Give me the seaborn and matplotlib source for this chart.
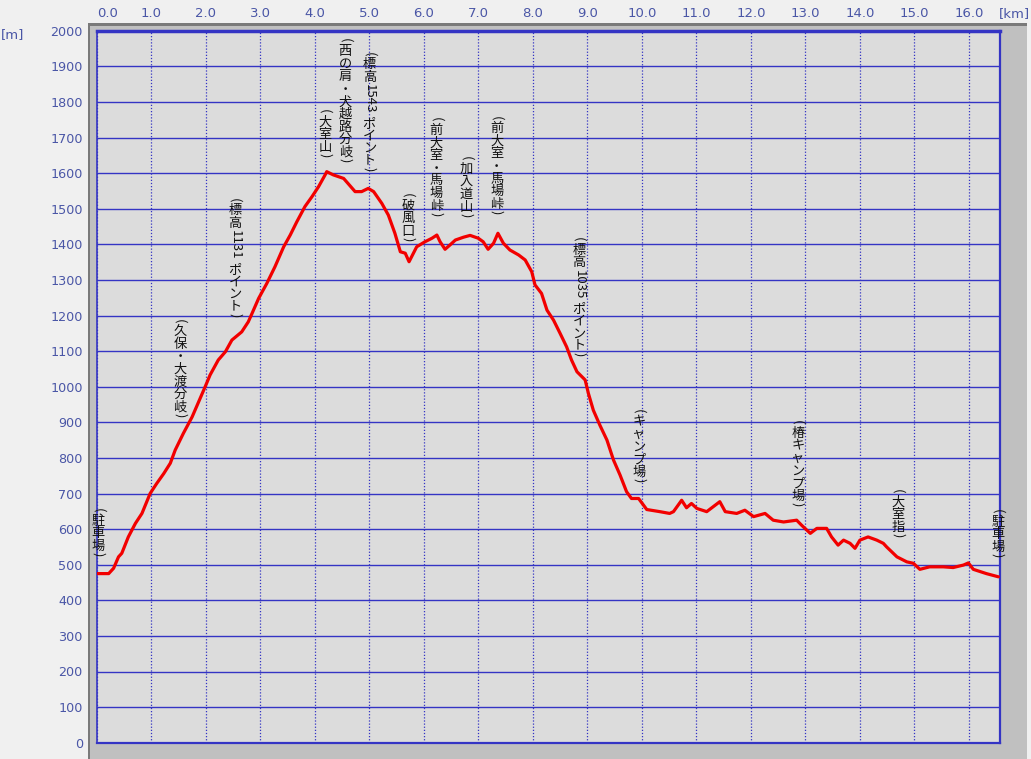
import matplotlib
matplotlib.use("Agg")
import matplotlib.pyplot as plt
from matplotlib.patches import Rectangle
from matplotlib.font_manager import FontProperties
import seaborn as sns
import pandas as pd

# ---------------- data ----------------
dist_km = [0.00, 0.22, 0.31, 0.40, 0.46, 0.58, 0.71, 0.83, 0.98, 1.10, 1.23, 1.35, 1.44, 1.59,
           1.75, 1.99, 2.08, 2.23, 2.36, 2.48, 2.66, 2.78, 2.85, 2.97, 3.12, 3.27, 3.43, 3.55,
           3.67, 3.82, 3.95, 4.07, 4.19, 4.22, 4.34, 4.53, 4.74, 4.86, 4.98, 5.08, 5.23, 5.35,
           5.47, 5.57, 5.66, 5.73, 5.81, 5.87, 6.02, 6.15, 6.24, 6.30, 6.39, 6.48, 6.58, 6.73,
           6.85, 7.00, 7.09, 7.18, 7.28, 7.36, 7.46, 7.58, 7.74, 7.86, 7.98, 8.04, 8.16, 8.26,
           8.38, 8.50, 8.62, 8.71, 8.81, 8.96, 9.02, 9.11, 9.23, 9.36, 9.48, 9.60, 9.72, 9.81,
           9.94, 10.09, 10.33, 10.51, 10.58, 10.73, 10.82, 10.91, 11.01, 11.19, 11.43, 11.53,
           11.74, 11.89, 12.05, 12.26, 12.41, 12.60, 12.84, 12.93, 13.09, 13.21, 13.39, 13.48,
           13.60, 13.70, 13.82, 13.91, 14.00, 14.15, 14.31, 14.43, 14.49, 14.68, 14.86, 14.98,
           15.10, 15.28, 15.53, 15.71, 15.90, 15.99, 16.08, 16.32, 16.54]
elev_m = [475, 475, 490, 522, 532, 578, 616, 644, 700, 728, 756, 785, 822, 869,
          915, 1000, 1033, 1075, 1098, 1131, 1154, 1182, 1206, 1248, 1290, 1337, 1393, 1426,
          1463, 1506, 1534, 1562, 1595, 1604, 1595, 1585, 1548, 1548, 1557, 1548, 1515, 1482,
          1431, 1379, 1375, 1351, 1375, 1393, 1407, 1417, 1426, 1407, 1386, 1398, 1412, 1420,
          1425, 1417, 1407, 1386, 1403, 1431, 1403, 1384, 1370, 1356, 1323, 1286, 1262, 1215,
          1187, 1150, 1112, 1075, 1042, 1019, 981, 934, 892, 850, 794, 752, 705, 686,
          686, 655, 649, 644, 649, 681, 660, 672, 658, 649, 677, 649,
          644, 653, 635, 644, 625, 620, 625, 611, 588, 602, 602, 578,
          555, 569, 560, 546, 569, 578, 569, 560, 550, 522, 508, 504,
          487, 494, 494, 492, 499, 505, 487, 475, 466]

label_texts = ["(駐車場)", "(久保・大渡分岐)", "(標高1131ポイント)", "(大室山)",
               "(西の肩・犬越路分岐)", "(標高1543ポイント)", "(破風口)", "(前大室・馬場峠)",
               "(加入道山)", "(前大室・馬場峠)", "(標高1035ポイント)", "(キャンプ場)",
               "(椿キャンプ場)", "(大室指)", "(駐車場)"]
label_km = [0.03, 1.53, 2.54, 4.19, 4.56, 5.00, 5.71, 6.23, 6.78, 7.34, 8.85, 9.95,
            12.86, 14.70, 16.53]
label_bottom_m = [521, 912, 1193, 1642, 1628, 1603, 1406, 1477, 1474, 1482, 1083, 729,
                  662, 575, 518]

x_ticks = [float(i) for i in range(17)]
x_tick_labels = [f"{v:.1f}" for v in x_ticks]
y_ticks = list(range(0, 2001, 100))
y_tick_labels = [str(v) for v in y_ticks]

# ---------------- style ----------------
sns.set_style("white")
plt.rcParams["font.family"] = ["DejaVu Sans"]

W, H, DPI = 1031, 759, 100
fig = plt.figure(figsize=(W / DPI, H / DPI), dpi=DPI, facecolor="#f0f0f0")


def fx(px):
    return px / W


def fy(py):
    return (H - py) / H


# gray frame behind plot area
fig.patches.append(Rectangle((fx(88), fy(762)), fx(1027) - fx(88), fy(24) - fy(762),
                             transform=fig.transFigure, facecolor="#c0c0c0",
                             edgecolor="none", zorder=-10))
fig.patches.append(Rectangle((fx(87.5), fy(762)), fx(2), fy(24) - fy(762),
                             transform=fig.transFigure, facecolor="#7a7a7a",
                             edgecolor="none", zorder=-9))
fig.patches.append(Rectangle((fx(87.5), fy(25.5)), fx(1027) - fx(87.5), fy(23.5) - fy(25.5),
                             transform=fig.transFigure, facecolor="#7a7a7a",
                             edgecolor="none", zorder=-9))

ax = fig.add_axes([fx(96.7), fy(742.7), fx(1000) - fx(96.7), fy(30.7) - fy(742.7)])
ax.set_zorder(5)
ax.set_facecolor("#dcdcdc")

blue = "#3434c4"
tick_col = "#4a56a6"

df = pd.DataFrame({"km": dist_km, "m": elev_m})
sns.lineplot(data=df, x="km", y="m", ax=ax, color="#f20000", linewidth=2.3,
             estimator=None, sort=False, zorder=5)

ax.set_xlim(0, 16.57)
ax.set_ylim(0, 2000)
ax.set_xlabel("")
ax.set_ylabel("")

ax.set_axisbelow(True)
ax.xaxis.tick_top()
ax.set_xticks(x_ticks)
ax.set_xticklabels(x_tick_labels)
ax.set_yticks(y_ticks)
ax.set_yticklabels(y_tick_labels)
ax.tick_params(axis="x", length=0, pad=8, labelsize=9.5, labelcolor=tick_col)
ax.tick_params(axis="y", length=0, pad=10, labelsize=9.2, labelcolor=tick_col)
ax.get_xticklabels()[0].set_horizontalalignment("left")

ax.yaxis.grid(True, color=blue, linewidth=1.0, linestyle="-")
ax.xaxis.grid(True, color=blue, linewidth=0.9, linestyle=(0, (1, 1.5)))

for side, lw in [("top", 2.5), ("left", 1.2), ("right", 1.6), ("bottom", 1.6)]:
    ax.spines[side].set_visible(True)
    ax.spines[side].set_color(blue)
    ax.spines[side].set_linewidth(lw)

fig.text(fx(13), fy(35), "[m]", ha="center", va="center", fontsize=9.5, color=tick_col)
fig.text(fx(1014), fy(14), "[km]", ha="center", va="center", fontsize=9.5, color=tick_col)

# ---------------- vertical (tategaki) labels ----------------
jp_font = ["Noto Sans CJK JP", "DejaVu Sans"]
JP_SIZE = 9.5
EM_PX = JP_SIZE * DPI / 72.0
fp_jp = FontProperties(family="Noto Sans CJK JP", size=JP_SIZE)
renderer = fig.canvas.get_renderer()
CJK_STEP = 12.6   # px per upright character
PAREN_STEP = 6.0  # px per rotated parenthesis


def tokens_of(s):
    toks = []
    run = ""
    for ch in s:
        if ord(ch) < 128:
            run += ch
        else:
            if run:
                toks.append((run, True))
                run = ""
            toks.append((ch, False))
    if run:
        toks.append((run, True))
    return toks


def vertical_label(x, ybottom, s):
    toks = tokens_of(s)
    advs = []
    for t, rot in toks:
        if rot:
            if t in "()":
                advs.append(PAREN_STEP)
            else:
                w, h, d = renderer.get_text_width_height_descent(t, fp_jp, ismath=False)
                advs.append(w + 4.0)
        else:
            advs.append(CJK_STEP)
    total = sum(advs)
    cum = 0.0
    for (t, rot), a in zip(toks, advs):
        yc = total - (cum + a / 2.0)
        if rot:
            ax.annotate(t, xy=(x, ybottom), xycoords="data", xytext=(0, yc),
                        textcoords="offset pixels", ha="center", va="center",
                        rotation=-90, fontsize=JP_SIZE, family=jp_font,
                        color="#111111", zorder=6, annotation_clip=False)
        else:
            ax.annotate(t, xy=(x, ybottom), xycoords="data",
                        xytext=(0, yc - 0.38 * EM_PX),
                        textcoords="offset pixels", ha="center", va="baseline",
                        fontsize=JP_SIZE, family=jp_font,
                        color="#111111", zorder=6, annotation_clip=False)
        cum += a


for t, x, yb in zip(label_texts, label_km, label_bottom_m):
    vertical_label(x, yb, t)

fig.savefig("out.png", dpi=DPI, facecolor=fig.get_facecolor())
